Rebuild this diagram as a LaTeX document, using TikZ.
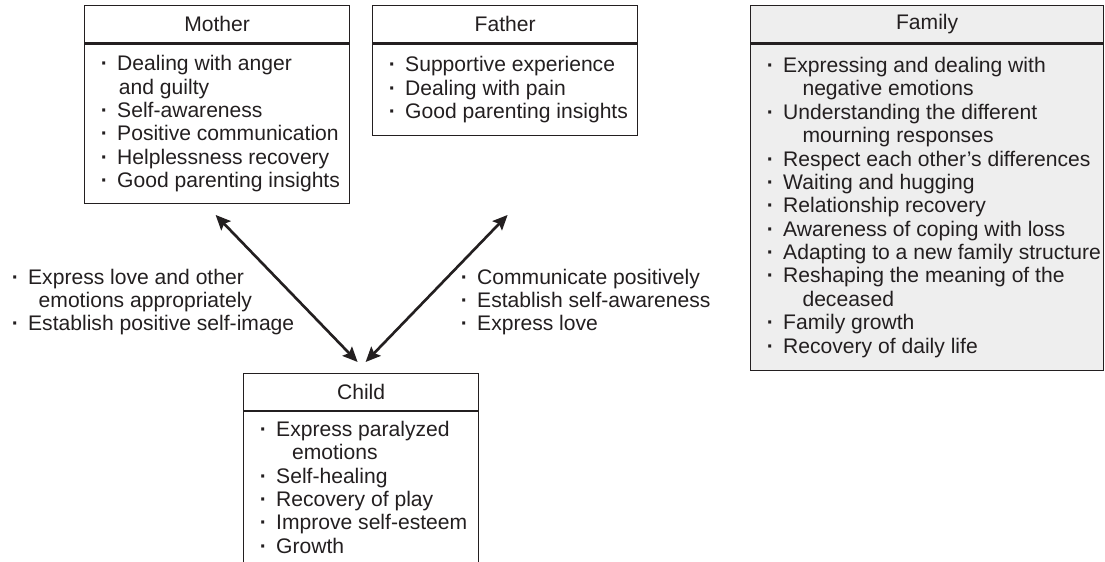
\documentclass[tikz,border=0pt]{standalone}
\usepackage{fontspec}
\setmainfont{Liberation Sans}
\usepackage{tikz}
\usetikzlibrary{arrows.meta, positioning, calc}
\usepackage{xcolor}
\definecolor{cInk}{RGB}{35,31,32}
\definecolor{cFamily}{RGB}{238,238,238}
\newcommand{\bul}{\makebox[14.7pt][c]{\bfseries ·}}
\newcommand{\contline}[1]{\hspace*{\dimexpr14.7pt+#1\relax}}
\tikzset{
  basebox/.style={rectangle, draw=cInk, line width=0.7pt, inner sep=0pt,
                  text=cInk, font=\fontsize{12}{13.3}\selectfont},
  headnode/.style={basebox, minimum height=0.75cm, anchor=north west},
  listnode/.style={basebox},
  textnode/.style={inner sep=0pt, align=left, text=cInk,
                   font=\fontsize{12}{13.3}\selectfont},
  dblarrow/.style={{Stealth[length=8.5pt,width=7.5pt,inset=1.5pt]}-{Stealth[length=8.5pt,width=7.5pt,inset=1.5pt]},
                   line width=1.5pt, draw=cInk}
}

\begin{document}
\begin{tikzpicture}
  \useasboundingbox (0,0) rectangle (22.10,-11.24);

  % mother
  \node[headnode, minimum width=5.30cm] (mothertitle) at (1.68,-0.10) {Mother};
  \node[listnode, minimum width=5.30cm, minimum height=3.18cm,
        below=0pt of mothertitle] (motherlist) {};
  \node[textnode, right=4pt of motherlist.west] (mothertext) {
    \bul Dealing with anger\\
    \contline{1pt}and guilty\\
    \bul Self-awareness\\
    \bul Positive communication\\
    \bul Helplessness recovery\\
    \bul Good parenting insights};

  % father
  \node[headnode, minimum width=5.30cm] (fathertitle) at (7.44,-0.10) {Father};
  \node[listnode, minimum width=5.30cm, minimum height=1.82cm,
        below=0pt of fathertitle] (fatherlist) {};
  \node[textnode, right=4pt of fatherlist.west] (fathertext) {
    \bul Supportive experience\\
    \bul Dealing with pain\\
    \bul Good parenting insights};

  % family
  \node[headnode, fill=cFamily, minimum width=7.06cm] (familytitle) at (15.00,-0.10) {Family};
  \node[listnode, fill=cFamily, minimum width=7.06cm, minimum height=6.52cm,
        below=0pt of familytitle] (familylist) {};
  \node[textnode, right=4pt of familylist.west] (familytext) {
    \bul Expressing and dealing with\\
    \contline{11pt}negative emotions\\
    \bul Understanding the different\\
    \contline{11pt}mourning responses\\
    \bul Respect each other’s differences\\
    \bul Waiting and hugging\\
    \bul Relationship recovery\\
    \bul Awareness of coping with loss\\
    \bul Adapting to a new family structure\\
    \bul Reshaping the meaning of the\\
    \contline{11pt}deceased\\
    \bul Family growth\\
    \bul Recovery of daily life};

  % child
  \node[headnode, minimum width=4.70cm, minimum height=0.74cm] (childtitle) at (4.86,-7.46) {Child};
  \node[listnode, minimum width=4.70cm, minimum height=3.02cm,
        below=0pt of childtitle] (childlist) {};
  \node[textnode, right=4pt of childlist.west] (childtext) {
    \bul Express paralyzed\\
    \contline{9pt}emotions\\
    \bul Self-healing\\
    \bul Recovery of play\\
    \bul Improve self-esteem\\
    \bul Growth};

  % labels on the arrows
  \node[textnode, anchor=west] (motherlabel) at (0.04,-6.04) {
    \bul Express love and other\\
    \contline{6pt}emotions appropriately\\
    \bul Establish positive self-image};
  \node[textnode, anchor=west] (fatherlabel) at (9.02,-6.04) {
    \bul Communicate positively\\
    \bul Establish self-awareness\\
    \bul Express love};

  % arrows
  \path (fatherlist.south |- motherlist.south) ++(0.05,-0.22) coordinate (fatherend);
  \draw[dblarrow] ([xshift=-0.03cm,yshift=-0.22cm]motherlist.south)
    -- ([xshift=-0.07cm,yshift=0.22cm]childtitle.north);
  \draw[dblarrow] ([xshift=0.09cm,yshift=0.22cm]childtitle.north) -- (fatherend);
\end{tikzpicture}
\end{document}
